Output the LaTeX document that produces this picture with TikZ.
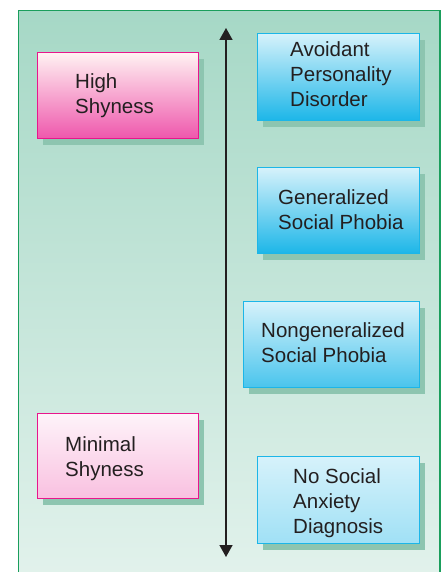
\documentclass[tikz,border=0pt]{standalone}
\usepackage{fontspec}
\setmainfont{Liberation Sans}
\usetikzlibrary{arrows.meta,shadows}

\definecolor{panelTop}{HTML}{A6D8C6}
\definecolor{panelBottom}{HTML}{E2F2EC}
\definecolor{panelEdge}{HTML}{1A9E5C}
\definecolor{shadowGreen}{HTML}{8DC5B0}
\definecolor{pinkEdge}{HTML}{E8168C}
\definecolor{cyanEdge}{HTML}{1CB6E8}
\definecolor{inkGray}{HTML}{231F20}

\tikzset{
  level/.style={draw, line width=1.2pt, anchor=north west, inner sep=0pt,
    general shadow={fill=shadowGreen, shadow xshift=5pt, shadow yshift=-6pt}},
  shybox/.style={level, draw=pinkEdge},
  diagbox/.style={level, draw=cyanEdge},
  % labels are placed by the baseline of their last line
  boxtext/.style={anchor=base west, align=left, inner sep=0pt, text=inkGray,
    font=\fontsize{20.5}{25}\selectfont},
  scalearrow/.style={draw=inkGray, line width=1.5pt,
    {Triangle[width=13pt,length=12pt]}-{Triangle[width=13pt,length=12pt]}}
}

\begin{document}
\begin{tikzpicture}[x=1pt,y=-1pt]
  \useasboundingbox (0,0) rectangle (441,572);

  % background panel
  \draw[panelEdge, line width=1.3pt, top color=panelTop, bottom color=panelBottom]
    (18.5,10.5) rectangle (440,580);

  % shyness levels
  \node[shybox, minimum width=161pt, minimum height=86pt,
        top color=pink!20!white, bottom color=pinkEdge!72!white] (high) at (37,52) {};
  \node[shybox, minimum width=161pt, minimum height=85pt,
        top color=pinkEdge!5!white, bottom color=pinkEdge!27!white] (minimal) at (37,413) {};

  % diagnostic categories
  \node[diagbox, minimum width=162pt, minimum height=87pt,
        top color=cyanEdge!18!white, middle color=cyanEdge!70!white, bottom color=cyanEdge] (apd) at (257,33) {};
  \node[diagbox, minimum width=162pt, minimum height=86pt,
        top color=cyanEdge!18!white, middle color=cyanEdge!62!white, bottom color=cyanEdge] (gsp) at (257,167) {};
  \node[diagbox, minimum width=176pt, minimum height=86pt,
        top color=cyanEdge!18!white, bottom color=cyanEdge!80!white] (ngsp) at (243,301) {};
  \node[diagbox, minimum width=162pt, minimum height=87pt,
        top color=cyanEdge!18!white, bottom color=cyanEdge!42!white] (none) at (257,456) {};

  % labels
  \node[boxtext] (highT) at (75,114) {High\\Shyness};
  \node[boxtext] (minimalT) at (65,476) {Minimal\\Shyness};
  \node[boxtext] (apdT) at (290,107) {Avoidant\\Personality\\Disorder};
  \node[boxtext] (gspT) at (278,229) {Generalized\\Social Phobia};
  \node[boxtext] (ngspT) at (261,362) {Nongeneralized\\Social Phobia};
  \node[boxtext] (noneT) at (293,533) {No Social\\Anxiety\\Diagnosis};

  % severity scale
  \coordinate (scaleTop) at (226,28);
  \coordinate (scaleBottom) at (226,557);
  \draw[scalearrow] (scaleTop) -- (scaleBottom);
\end{tikzpicture}
\end{document}
